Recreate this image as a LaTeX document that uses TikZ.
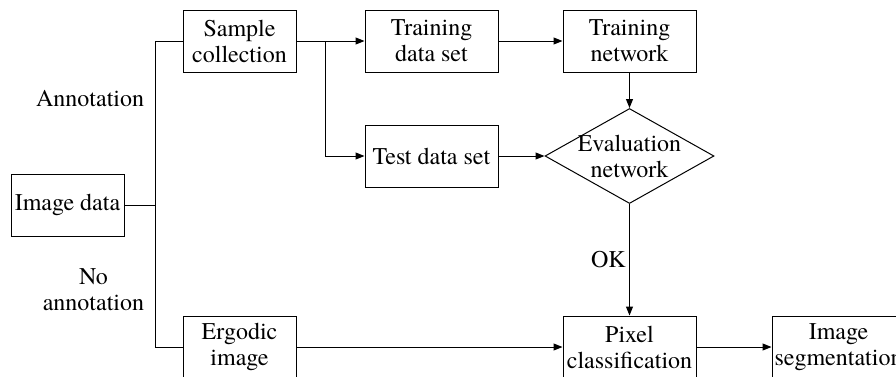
\documentclass[tikz,border=0pt]{standalone}
\usepackage{fontspec}
\setmainfont{texgyretermes}[Extension=.otf, UprightFont=*-regular]
\usetikzlibrary{arrows.meta}
\usetikzlibrary{shapes.geometric}

\begin{document}
\begin{tikzpicture}[x=1pt, y=-1pt, line width=1pt,
    font=\fontsize{24pt}{26pt}\selectfont,
    blk/.style={draw, align=center, inner sep=2pt, minimum height=62pt},
    narrowblk/.style={blk, minimum width=113pt},
    wideblk/.style={blk, minimum width=133pt},
    flow/.style={-{Triangle[length=9pt, width=7pt]}}]
    \useasboundingbox (0, 0) rectangle (896, 376);
    \clip (0, 0) rectangle (896, 376); % cut like the figure
    \node[narrowblk] (imgdata) at (67.5, 205) {Image data};
    \node[narrowblk] (sample) at (239.5, 41) {Sample\\collection};
    \node[narrowblk] (ergodic) at (239.5, 347) {Ergodic\\image};
    \node[wideblk] (traindata) at (431.5, 41) {Training\\data set};
    \node[wideblk] (testdata) at (431.5, 156) {Test data set};
    \node[wideblk] (trainnet) at (629.5, 41) {Training\\network};
    \node[draw, diamond, inner sep=0pt, minimum width=169pt, minimum height=95pt,
        label={[align=center]center:Evaluation\\network}] (eval) at (629.5, 156) {};
    \node[wideblk] (pixel) at (629.5, 347) {Pixel\\classification};
    \node[wideblk] (segment) at (838.5, 347) {Image\\segmentation};
    \node[anchor=east] (annot) at (148, 99) {Annotation};
    \node[anchor=east, align=center] (noannot) at (148, 290) {No\\annotation};

    \coordinate (split) at ([xshift=31pt]imgdata.east);
    \coordinate (fork) at ([xshift=29pt]sample.east);
    \draw (imgdata.east) -- (split) |- (sample.west);
    \draw (split) |- (ergodic.west);
    \draw (sample.east) -- (fork);
    \draw[flow] (fork) -- (traindata.west);
    \draw[flow] (fork) |- (testdata.west);
    \draw[flow] (traindata) -- (trainnet);
    \draw[flow] (trainnet) -- (eval);
    \draw[flow] (testdata) -- (eval);
    \draw[flow] (eval) -- node[left] (ok) {OK} (pixel);
    \draw[flow] (ergodic) -- (pixel);
    \draw[flow] (pixel) -- (segment);
\end{tikzpicture}
\end{document}
